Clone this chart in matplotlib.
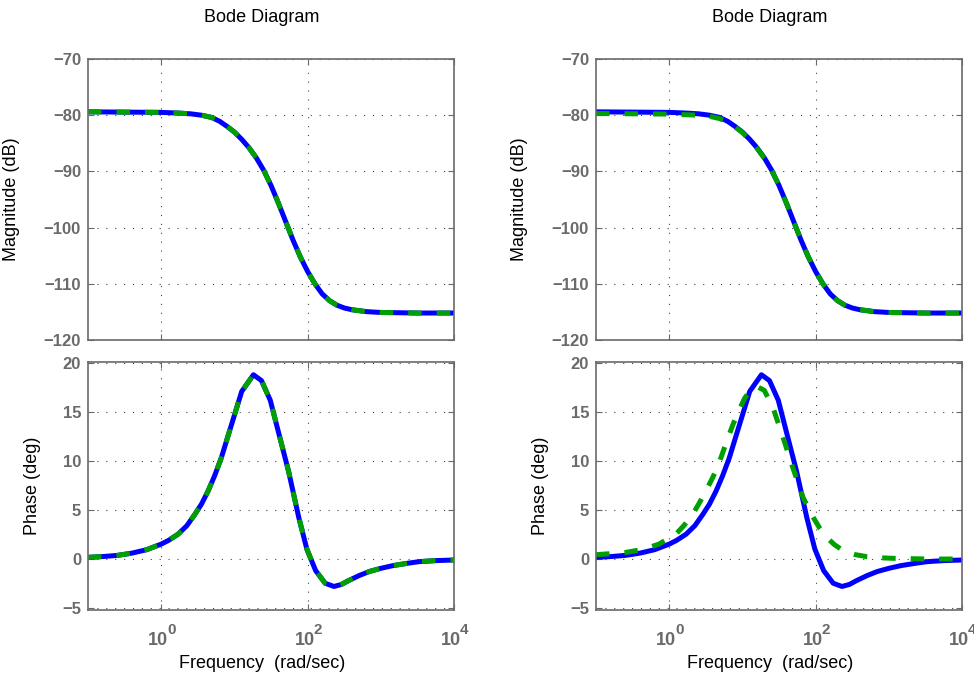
import numpy as np
import matplotlib
matplotlib.use("Agg")
import matplotlib.pyplot as plt
import matplotlib.transforms as mtransforms

plt.rcParams['font.family'] = ['Liberation Sans', 'DejaVu Sans']

# ---- data (x given as log10 of rad/sec) ----
logw_mag = [-1.0, -0.5, 0.0, 0.2, 0.4, 0.55, 0.69, 0.8, 0.9, 1.0, 1.1, 1.2, 1.3, 1.4, 1.5,
            1.6, 1.7, 1.8, 1.9, 2.0, 2.1, 2.2, 2.3, 2.4, 2.5, 2.6, 2.8, 3.0, 3.5, 4.0]
mag_blue = [-79.4, -79.45, -79.5, -79.6, -79.75, -80.0, -80.4, -81.1, -82.0, -83.0, -84.3,
            -85.8, -87.6, -89.8, -92.5, -95.6, -98.9, -102.2, -105.2, -107.8, -110.0,
            -111.8, -113.0, -113.8, -114.3, -114.6, -114.95, -115.1, -115.2, -115.2]
mag_green_right = [-79.7, -79.75, -79.8, -79.9, -80.0, -80.2, -80.6, -81.25, -82.1, -83.1,
                   -84.4, -85.9, -87.65, -89.85, -92.5, -95.6, -98.9, -102.2, -105.2,
                   -107.8, -110.0, -111.8, -113.0, -113.8, -114.3, -114.6, -114.95,
                   -115.1, -115.2, -115.2]

logw_ph = [-1.0, -0.8, -0.6, -0.4, -0.2, 0.0, 0.1, 0.23, 0.35, 0.46, 0.55, 0.64, 0.73, 0.82,
           0.96, 1.10, 1.26, 1.37, 1.49, 1.60, 1.74, 1.88, 1.99, 2.11, 2.24, 2.36, 2.46,
           2.56, 2.7, 2.84, 3.0, 3.16, 3.35, 3.52, 3.75, 4.0]
ph_blue = [0.17, 0.25, 0.37, 0.6, 0.95, 1.52, 1.9, 2.53, 3.4, 4.56, 5.6, 6.93, 8.5, 10.3,
           13.7, 17.1, 18.8, 18.2, 16.2, 13.0, 8.95, 4.22, 1.01, -1.18, -2.47, -2.80, -2.6,
           -2.20, -1.7, -1.28, -0.95, -0.68, -0.45, -0.27, -0.16, -0.10]

logw_ph_green = [-1.0, -0.8, -0.59, -0.35, -0.14, 0.09, 0.2, 0.32, 0.41, 0.50, 0.6, 0.69,
                 0.78, 0.87, 0.95, 1.03, 1.10, 1.20, 1.30, 1.42, 1.56, 1.69, 1.83, 1.97,
                 2.06, 2.15, 2.26, 2.38, 2.54, 2.70, 2.9, 3.07, 3.52, 4.0]
ph_green_right = [0.44, 0.55, 0.68, 1.0, 1.52, 2.53, 3.4, 4.56, 5.7, 6.93, 8.4, 9.97, 11.9,
                  13.7, 15.1, 16.4, 17.1, 17.6, 17.2, 15.4, 12.3, 9.29, 6.25, 4.22, 3.1,
                  2.20, 1.45, 0.84, 0.45, 0.24, 0.12, 0.07, 0.0, 0.0]

mag_ticks = [-120, -110, -100, -90, -80, -70]
ph_ticks = [-5, 0, 5, 10, 15, 20]
freq_ticks = [1e0, 1e2, 1e4]
freq_exps = ['0', '2', '4']

w_mag = np.power(10.0, logw_mag)
w_ph = np.power(10.0, logw_ph)
w_ph_g = np.power(10.0, logw_ph_green)

GRAY = '#6a6a6a'
BLUE = '#0000ff'
GREEN = '#00a000'
LW = 3.6
DASH = (0, (2.7, 3.0))


def style_axes(ax, yticks, ylim):
    ax.set_xscale('log')
    ax.set_xlim(1e-1, 1e4)
    ax.set_ylim(*ylim)
    ax.set_yticks(yticks)
    ax.set_yticklabels([str(t).replace('-', '\u2212') for t in yticks])
    ax.set_xticks(freq_ticks)
    ax.set_xticklabels([])
    ax.xaxis.set_minor_locator(matplotlib.ticker.NullLocator())
    ax.grid(True, which='major', color='#444444', lw=0.8, linestyle=(0, (1, 7)))
    for s in ax.spines.values():
        s.set_color(GRAY)
        s.set_linewidth(1.2)
    ax.tick_params(direction='in', length=4, color=GRAY, top=True, right=True,
                   labelcolor=GRAY, labelsize=12)
    for lab in ax.get_yticklabels():
        lab.set_fontweight('bold')
    ax.tick_params(axis='y', pad=5)


fig = plt.figure(figsize=(9.74, 6.75), dpi=100)

lefts = [88 / 974, 596 / 974]
width = 366 / 974
mag_pos = (1 - 340 / 675, 281 / 675)
ph_pos = (1 - 610 / 675, 248 / 675)

for k, left in enumerate(lefts):
    axm = fig.add_axes([left, mag_pos[0], width, mag_pos[1]])
    axp = fig.add_axes([left, ph_pos[0], width, ph_pos[1]])

    axm.plot(w_mag, mag_blue, color=BLUE, lw=LW)
    if k == 0:
        axm.plot(w_mag, mag_blue, color=GREEN, lw=LW, linestyle=DASH)
    else:
        axm.plot(w_mag, mag_green_right, color=GREEN, lw=LW, linestyle=DASH)
    style_axes(axm, mag_ticks, (-120, -70))
    axm.set_ylabel('Magnitude (dB)', fontsize=13)
    axm.yaxis.set_label_coords(-68 / 366, 0.5)

    axp.plot(w_ph, ph_blue, color=BLUE, lw=LW)
    if k == 0:
        axp.plot(w_ph, ph_blue, color=GREEN, lw=LW, linestyle=DASH)
    else:
        axp.plot(w_ph_g, ph_green_right, color=GREEN, lw=LW, linestyle=DASH)
    style_axes(axp, ph_ticks, (-5.2, 20.1))
    axp.set_ylabel('Phase (deg)', fontsize=13)
    axp.yaxis.set_label_coords(-47 / 366, 0.5)

    # MATLAB-style "10^n" tick labels with a big superscript
    base = axp.get_xaxis_transform()
    for t, e in zip(freq_ticks, freq_exps):
        tr_b = mtransforms.offset_copy(base, fig=fig, x=-3, y=-35, units='dots')
        tr_e = mtransforms.offset_copy(base, fig=fig, x=6, y=-24, units='dots')
        axp.text(t, 0, '10', transform=tr_b, ha='center', va='baseline',
                 fontsize=13, fontweight='bold', color=GRAY)
        axp.text(t, 0, e, transform=tr_e, ha='left', va='baseline',
                 fontsize=11, fontweight='bold', color=GRAY)

    cx = left + width / 2 - 9 / 974
    fig.text(cx, 1 - 663 / 675, 'Frequency  (rad/sec)', ha='center', va='center',
             fontsize=13)
    fig.text(cx, 1 - 17 / 675, 'Bode Diagram', ha='center', va='center', fontsize=13)

fig.savefig('out.png', dpi=100)
